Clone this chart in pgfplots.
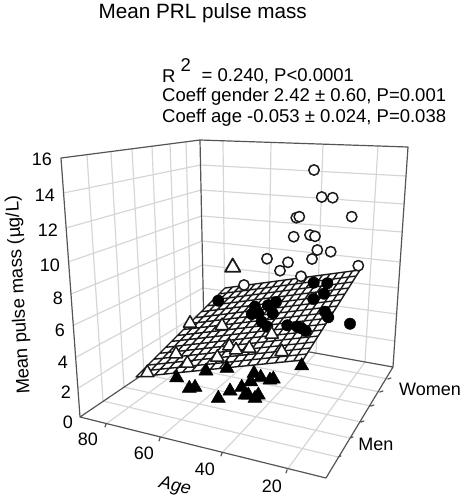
\documentclass[border=0pt]{standalone}
\usepackage{pgfplots}
\pgfplotsset{compat=1.18}
\usepackage{fontspec}
\setmainfont{Liberation Sans}
\definecolor{gridc}{HTML}{D6D6D6}
\definecolor{axisc}{HTML}{555555}
\definecolor{inkc}{HTML}{1A1A1A}
\begin{document}
\begin{tikzpicture}
\path[use as bounding box] (0,0) rectangle (466pt,501pt);
\begin{axis}[
  at={(0,0)},anchor=south west,
  scale only axis,width=466pt,height=501pt,
  xmin=0,xmax=466,ymin=0,ymax=501,y dir=reverse,
  hide axis,clip=false,unbounded coords=jump,
  every axis plot/.append style={line cap=round,line join=round},
]
% walls and floor grid
\addplot[gridc,line width=1.2pt,no marks] coordinates {
 (63.5,193)(200.5,165) (nan,nan)
 (66,228)(201,190) (nan,nan)
 (68,262)(201.5,216) (nan,nan)
 (71,294)(202,241) (nan,nan)
 (74,325)(202.5,265) (nan,nan)
 (76.5,357)(203,288) (nan,nan)
 (78.5,388)(203.5,311) (nan,nan)
 (87,155)(103,401) (nan,nan)
 (111,152)(124,387) (nan,nan)
 (132,149)(144,374) (nan,nan)
 (152,146)(161,362) (nan,nan)
 (170,144)(177.5,351) (nan,nan)
 (186,142)(191.6,341) (nan,nan)
 (200.5,165)(406,176) (nan,nan)
 (201,190)(404,204) (nan,nan)
 (201.5,216)(402,232) (nan,nan)
 (202,241)(400,262) (nan,nan)
 (202.5,265)(398.4,288) (nan,nan)
 (203,288)(396.6,314) (nan,nan)
 (203.5,311)(394.8,341) (nan,nan)
 (223,141)(225,337) (nan,nan)
 (271,142)(268,345) (nan,nan)
 (323,144)(316,353) (nan,nan)
 (378,146)(365,362) (nan,nan)
 (103,401)(338,457) (nan,nan)
 (124,387)(350,438) (nan,nan)
 (144,374)(361,422) (nan,nan)
 (161,362)(371,406) (nan,nan)
 (177.5,351)(380,392) (nan,nan)
 (191.6,341)(388,379) (nan,nan)
 (106,424)(225,337) (nan,nan)
 (160,438)(268,345) (nan,nan)
 (222,453)(316,353) (nan,nan)
 (287,470)(365,362)
};
% frame
\addplot[axisc,line width=1.2pt,no marks] coordinates {
 (61,158)(80,417)(326,478)(393,367)(408,147)(200,140)(61,158) (nan,nan)
 (200,140)(204,333)(393,367) (nan,nan)
 (204,333)(80,417) (nan,nan)
 (106,424)(105,427) (nan,nan)
 (160,438)(159,441) (nan,nan)
 (222,453)(221,456) (nan,nan)
 (287,470)(286,473) (nan,nan)
 (338,457)(341,456) (nan,nan)
 (350,438)(353,437) (nan,nan)
 (361,422)(364,421) (nan,nan)
 (371,406)(374,405) (nan,nan)
 (380,392)(383,391) (nan,nan)
 (388,379)(391,378)
};
% regression plane
\addplot[draw=none,fill=white,no marks] coordinates {(136,377)(303,360)(360,270)(225,288)} -- cycle;
\addplot[inkc,line width=1.4pt,no marks] coordinates {
 (136,377)(225,288) (nan,nan)
 (145.3,376.1)(232.5,287) (nan,nan)
 (154.6,375.1)(240,286) (nan,nan)
 (163.8,374.2)(247.5,285) (nan,nan)
 (173.1,373.2)(255,284) (nan,nan)
 (182.4,372.3)(262.5,283) (nan,nan)
 (191.7,371.3)(270,282) (nan,nan)
 (200.9,370.4)(277.5,281) (nan,nan)
 (210.2,369.4)(285,280) (nan,nan)
 (219.5,368.5)(292.5,279) (nan,nan)
 (228.8,367.6)(300,278) (nan,nan)
 (238.1,366.6)(307.5,277) (nan,nan)
 (247.3,365.7)(315,276) (nan,nan)
 (256.6,364.7)(322.5,275) (nan,nan)
 (265.9,363.8)(330,274) (nan,nan)
 (275.2,362.8)(337.5,273) (nan,nan)
 (284.4,361.9)(345,272) (nan,nan)
 (293.7,360.9)(352.5,271) (nan,nan)
 (303,360)(360,270) (nan,nan)
 (136,377)(303,360) (nan,nan)
 (141.9,371.1)(306.8,354) (nan,nan)
 (147.9,365.1)(310.6,348) (nan,nan)
 (153.8,359.2)(314.4,342) (nan,nan)
 (159.7,353.3)(318.2,336) (nan,nan)
 (165.7,347.3)(322,330) (nan,nan)
 (171.6,341.4)(325.8,324) (nan,nan)
 (177.5,335.5)(329.6,318) (nan,nan)
 (183.5,329.5)(333.4,312) (nan,nan)
 (189.4,323.6)(337.2,306) (nan,nan)
 (195.3,317.7)(341,300) (nan,nan)
 (201.3,311.7)(344.8,294) (nan,nan)
 (207.2,305.8)(348.6,288) (nan,nan)
 (213.1,299.9)(352.4,282) (nan,nan)
 (219.1,293.9)(356.2,276) (nan,nan)
 (225,288)(360,270)
};
% open circles
\addplot[only marks,mark=*,mark size=5.2pt,mark options={fill=white,draw=inkc,line width=1.5pt}] coordinates {
 (314,170)(321.7,197)(332.7,197.7)(296.3,217.7)(299.3,216.7)(351.7,216.7)
 (293.7,236.7)(310,235)(315,236.3)(317.3,250)(330.7,251.7)(312,259)
 (267,258.7)(288,262.3)(280,270.7)(358.3,265.7)(301,276.3)(244,285)
};
% filled circles
\addplot[only marks,mark=*,mark size=5.7pt,mark options={fill=black,draw=black}] coordinates {
 (218.3,300.7)(313.7,282.7)(327.3,283.3)(324,293.7)(313.3,299)(325,311.7)
 (328.3,317.3)(350,323.7)(276,302)(268,305.3)(255,306.7)(251.7,314)
 (258.3,313.3)(272.7,313.3)(261.7,321.7)(267.3,326.7)(287.3,325.3)
 (297.3,326.7)(301.7,328.3)(305.7,331)
};
% open triangles
\addplot[only marks,mark=triangle*,mark size=7.6pt,mark options={fill=white,draw=inkc,line width=1.5pt}] coordinates {
 (190,323.3)(222,325.7)(229.3,346)(236,350)(249.3,348.3)(217.3,357.3)
 (176,354)(187.3,363.3)(147.3,372.7)(271.7,334.3)(281.7,351.7)
};
\addplot[only marks,mark=triangle*,mark size=8.8pt,mark options={fill=white,draw=inkc,line width=1.8pt}] coordinates {(232.7,267.3)};
% filled triangles
\addplot[only marks,mark=triangle*,mark size=8.2pt,mark options={fill=black,draw=black}] coordinates {
 (176.7,377.7)(206,371)(227,368.3)(189.3,388.3)(195,387.3)(218.3,398.3)
 (230,391)(241.7,387.3)(245,395)(254,373.3)(250.7,381.7)(260.7,377.3)
 (273.3,379)(248.3,395)(258.3,395)(255,398.3)(301.7,365.7)(270,380)
};
% text
\node[font=\fontsize{20.7}{24}\selectfont,text=black] at (axis cs:202.7,13) {Mean PRL pulse mass};
\node[font=\fontsize{18.5}{22}\selectfont,anchor=west,inner sep=0pt] at (axis cs:162,76) {R};
\node[font=\fontsize{18.5}{22}\selectfont,inner sep=0pt] at (axis cs:185.7,65) {2};
\node[font=\fontsize{18.5}{22}\selectfont,anchor=west,inner sep=0pt] at (axis cs:201.5,76) {= 0.240, P<0.0001};
\node[font=\fontsize{18.5}{22}\selectfont,anchor=west,inner sep=0pt] at (axis cs:162,97) {Coeff gender 2.42 ± 0.60, P=0.001};
\node[font=\fontsize{18.5}{22}\selectfont,anchor=west,inner sep=0pt] at (axis cs:162,118) {Coeff age -0.053 ± 0.024, P=0.038};
\node[font=\fontsize{18.5}{22}\selectfont,rotate=93.4] at (axis cs:19,295) {Mean pulse mass (µg/L)};
\node[font=\fontsize{18}{22}\selectfont\itshape,rotate=-12] at (axis cs:175,487) {Age};
\foreach \xx/\yy/\tt in {42/159/16,45/195/14,48/230/12,50/265/10,58/298/8,60/330/6,63/362/4,66/392/2,68/422/0,88/439/80,144/453/60,205/469/40,272/486/20}{
  \edef\temp{\noexpand\node[font=\noexpand\fontsize{18}{21}\noexpand\selectfont,inner sep=0pt] at (axis cs:\xx,\yy) {\tt};}
  \temp
}
\node[font=\fontsize{18}{22}\selectfont,inner sep=0pt] at (axis cs:376,444) {Men};
\node[font=\fontsize{18}{22}\selectfont,inner sep=0pt] at (axis cs:430,389) {Women};
\end{axis}
\end{tikzpicture}
\end{document}
